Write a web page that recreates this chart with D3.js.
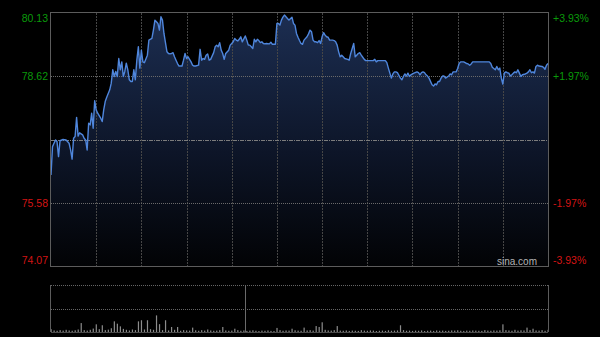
<!DOCTYPE html>
<html lang="zh">
<head>
<meta charset="UTF-8">
<title>分时图</title>
<script src="https://d3js.org/d3.v7.min.js"></script>
<style>
  html, body { margin: 0; padding: 0; background: #000; }
  svg { display: block; }
  .lbl { font-family: Arial, "Liberation Sans", sans-serif; font-size: 10.5px; }
  .up { fill: #0a9a0a; }
  .down { fill: #d41414; }
</style>
</head>
<body>
<svg width="600" height="337"></svg>
<script>
// --- data ---
const preClose = 77.10;
const priceTicks = [80.13, 78.62, 75.58, 74.07];
const pctTicks = ["+3.93%", "+1.97%", "-1.97%", "-3.93%"];

// minutes since the open (HK session, 330 trading minutes)
const minutes = [
  0,1,2,3,4,5,6,8,10,12,13,14,15,16,17,18,19,21,22,23,24,25,26,27,28,29,30,31,33,34,35,36,37,39,40,
  41,42,43,44,45,46,47,48,49,50,51,52,53,54,55,56,57,58,59,60,61,62,64,
  65,67,68,69,70,71,72,73,74,75,77,78,79,80,81,82,83,84,85,87,88,89,90,91,92,93,94,95,96,98,99,
  100,101,102,103,104,105,106,108,109,110,111,112,113,114,115,116,118,119,120,121,122,123,124,125,126,127,129,130,131,
  132,133,134,135,136,137,138,139,140,141,142,143,145,146,147,149,150,151,152,153,154,155,156,157,158,160,161,162,163,
  164,165,166,167,168,170,171,172,173,174,175,176,177,178,179,180,181,182,183,184,185,187,188,189,190,191,192,193,194,195,197,
  198,199,201,202,203,204,205,206,207,208,209,212,214,215,216,217,219,222,223,224,225,226,227,228,229,230,232,233,234,235,
  236,237,238,239,240,241,243,244,245,246,247,248,249,250,251,253,254,255,256,257,258,259,260,261,262,264,
  265,266,267,268,269,270,271,272,274,275,276,277,278,279,280,282,286,289,291,292,293,295,296,297,298,299,300,301,302,
  303,304,305,306,307,308,309,310,311,312,313,315,316,317,318,319,320,321,322,323,324,326,327,328,329,330
];
const prices = [
  76.25,76.93,77.01,77.09,77.05,76.69,77.07,77.10,77.09,77.01,76.85,76.63,77.13,77.17,77.63,77.18,77.26,77.21,77.13,77.09,
  76.85,77.49,77.45,77.73,77.37,78.03,77.81,77.73,77.61,77.53,77.81,78.01,78.11,78.29,78.45,
  78.77,78.61,78.73,78.61,79.04,78.77,78.96,78.61,78.73,78.93,78.77,78.53,78.49,78.49,78.77,78.53,79.00,79.32,78.81,79.24,78.96,78.94,79.12,
  79.48,79.52,79.72,79.96,79.92,79.88,79.72,80.04,79.96,79.64,79.20,79.16,79.15,79.16,79.18,79.08,79.00,78.92,78.86,78.86,79.00,
  79.16,79.04,79.08,79.02,78.96,78.88,78.86,78.86,78.88,79.26,
  79.00,79.04,79.02,79.12,79.15,79.00,79.02,79.18,79.32,79.36,79.32,79.42,79.24,79.16,79.02,79.16,79.24,79.36,79.40,79.44,
  79.52,79.48,79.46,79.50,79.56,79.44,79.58,79.48,79.36,
  79.36,79.32,79.28,79.50,79.44,79.50,79.47,79.42,79.44,79.40,79.39,79.40,79.39,79.43,79.38,79.38,79.88,79.88,79.84,79.96,
  80.03,80.08,80.04,80.00,79.96,80.03,79.88,79.84,79.64,
  79.55,79.47,79.40,79.38,79.48,79.56,79.63,79.72,79.68,79.48,79.44,79.44,79.42,79.47,79.40,79.56,79.66,79.60,79.56,79.55,
  79.48,79.48,79.47,79.44,79.36,79.20,79.08,79.12,79.08,79.04,79.02,
  79.00,79.16,79.40,79.08,79.12,79.16,79.18,79.12,79.07,79.02,78.99,78.99,78.99,79.02,78.96,78.99,78.99,78.99,78.94,78.81,
  78.69,78.57,78.67,78.72,78.72,78.70,78.57,78.53,78.61,78.67,
  78.62,78.69,78.61,78.65,78.67,78.69,78.72,78.70,78.65,78.70,78.72,78.70,78.65,78.62,78.57,78.41,78.38,78.43,78.41,78.49,
  78.49,78.57,78.62,78.62,78.57,78.62,
  78.67,78.65,78.72,78.72,78.72,78.80,78.92,78.96,78.96,78.94,78.92,78.91,78.88,78.91,78.96,78.96,78.96,78.96,78.96,78.92,
  78.83,78.77,78.85,78.77,78.81,78.57,78.43,78.69,78.72,
  78.70,78.69,78.62,78.65,78.69,78.72,78.70,78.77,78.69,78.61,78.65,78.67,78.69,78.72,78.77,78.70,78.72,78.69,78.85,78.88,
  78.86,78.85,78.83,78.78,78.88,78.92
];

// volume, one value every 2 minutes (arbitrary units)
const volumes = [
  18,10,8,12,9,14,10,8,11,16,
  57,12,9,14,22,49,18,43,12,15,
  24,68,53,36,20,14,10,16,12,68,
  75,16,75,18,14,106,50,12,75,10,
  32,14,32,8,12,10,9,28,11,8,
  12,9,16,10,8,9,12,32,10,8,
  9,21,12,8,10,7,9,11,8,6,
  9,8,10,7,6,26,12,8,10,9,
  21,11,9,8,28,10,12,9,38,32,
  62,14,10,9,12,38,9,8,10,7,
  9,8,7,12,9,8,10,9,6,8,
  9,7,11,8,9,10,43,12,8,9,
  7,9,8,10,6,8,9,7,10,8,
  9,7,8,10,9,11,8,7,9,8,
  10,9,8,7,12,9,8,10,9,11,
  49,12,10,8,14,9,11,10,28,12,
  21,10,9,12,8,14
];
const volStep = 2;
const volMax = 300;
const volDividerMinute = 129;
const sessionMinutes = 330;

// --- layout ---
const svg = d3.select("svg");
const L = 51, R = 548, T = 13, B = 266;
const VT = 285, VB = 332;

const x = d3.scaleLinear().domain([0, sessionMinutes]).range([L, R]);
const y = d3.scaleLinear().domain([priceTicks[3], priceTicks[0]]).range([B, T]);
const yv = d3.scaleLinear().domain([0, volMax]).range([VB, VT]);

const defs = svg.append("defs");
const grad = defs.append("linearGradient")
  .attr("id", "areaFill")
  .attr("gradientUnits", "userSpaceOnUse")
  .attr("x1", 0).attr("y1", T).attr("x2", 0).attr("y2", B);
grad.append("stop").attr("offset", 0).attr("stop-color", "#1c2e52");
grad.append("stop").attr("offset", 0.55).attr("stop-color", "#0d1528");
grad.append("stop").attr("offset", 1).attr("stop-color", "#020305");

const data = minutes.map((m, i) => [m, prices[i]]);

// area under the price line
svg.append("path")
  .datum(data)
  .attr("fill", "url(#areaFill)")
  .attr("d", d3.area().x(d => x(d[0])).y0(B).y1(d => y(d[1])));

// vertical grid every half hour
const grid = svg.append("g");
grid.selectAll("line.v")
  .data(d3.range(30, sessionMinutes, 30))
  .enter().append("line")
  .attr("x1", d => Math.round(x(d)) + 0.5).attr("x2", d => Math.round(x(d)) + 0.5)
  .attr("y1", T).attr("y2", B)
  .attr("stroke", "#464646")
  .attr("stroke-dasharray", "2,1");

// horizontal grid
grid.selectAll("line.h")
  .data([priceTicks[1], priceTicks[2]])
  .enter().append("line")
  .attr("x1", L).attr("x2", R)
  .attr("y1", d => Math.round(y(d)) + 0.5).attr("y2", d => Math.round(y(d)) + 0.5)
  .attr("stroke", "#6a6a6a")
  .attr("stroke-dasharray", "1,1");

// previous close
grid.append("line")
  .attr("x1", L).attr("x2", R)
  .attr("y1", Math.round(y(preClose)) + 0.5).attr("y2", Math.round(y(preClose)) + 0.5)
  .attr("stroke", "#7c7c7c")
  .attr("stroke-dasharray", "4,1,1,1");

// price line
svg.append("path")
  .datum(data)
  .attr("fill", "none")
  .attr("stroke", "#4f86dc")
  .attr("stroke-width", 1.4)
  .attr("stroke-linejoin", "round")
  .attr("d", d3.line().x(d => x(d[0])).y(d => y(d[1])));

// frame
svg.append("rect")
  .attr("x", L - 0.5).attr("y", T - 0.5)
  .attr("width", R - L + 1).attr("height", B - T + 1)
  .attr("fill", "none")
  .attr("stroke", "#5c5c5c");

// watermark
svg.append("text")
  .attr("class", "lbl")
  .attr("x", 537).attr("y", B - 1)
  .attr("text-anchor", "end")
  .attr("fill", "#b4b4b4")
  .style("font-size", "10px")
  .text("sina.com");

// price labels (left) and percent labels (right)
const labelY = (d, i) => {
  if (i === 0) return y(d) + 9;
  if (i === priceTicks.length - 1) return y(d) - 2;
  return y(d) + 3.6;
};
svg.append("g").selectAll("text")
  .data(priceTicks)
  .enter().append("text")
  .attr("class", d => "lbl " + (d > preClose ? "up" : "down"))
  .attr("x", L - 3)
  .attr("y", labelY)
  .attr("text-anchor", "end")
  .text(d => d.toFixed(2));

svg.append("g").selectAll("text")
  .data(pctTicks)
  .enter().append("text")
  .attr("class", d => "lbl " + (d[0] === "+" ? "up" : "down"))
  .attr("x", R + 5)
  .attr("y", (d, i) => labelY(priceTicks[i], i))
  .text(d => d);

// --- volume panel ---
const vol = svg.append("g");
vol.selectAll("line.vg")
  .data([volMax, volMax / 2])
  .enter().append("line")
  .attr("x1", L).attr("x2", R)
  .attr("y1", d => Math.round(yv(d)) + 0.5).attr("y2", d => Math.round(yv(d)) + 0.5)
  .attr("stroke", "#666")
  .attr("stroke-dasharray", "1,1");

vol.selectAll("rect")
  .data(volumes)
  .enter().append("rect")
  .attr("x", (d, i) => x(i * volStep) - 0.5)
  .attr("width", 1.2)
  .attr("y", d => yv(d))
  .attr("height", d => VB - yv(d))
  .attr("fill", "#8c8c8c");

vol.append("line")
  .attr("x1", Math.round(x(volDividerMinute)) + 0.5).attr("x2", Math.round(x(volDividerMinute)) + 0.5)
  .attr("y1", VT).attr("y2", VB)
  .attr("stroke", "#6a6a6a");

[L - 0.5, R + 0.5].forEach(px => {
  vol.append("line")
    .attr("x1", px).attr("x2", px)
    .attr("y1", VT).attr("y2", VB)
    .attr("stroke", "#5c5c5c");
});
vol.append("line")
  .attr("x1", L).attr("x2", R)
  .attr("y1", VB + 0.5).attr("y2", VB + 0.5)
  .attr("stroke", "#4a4a4a");
</script>
</body>
</html>
